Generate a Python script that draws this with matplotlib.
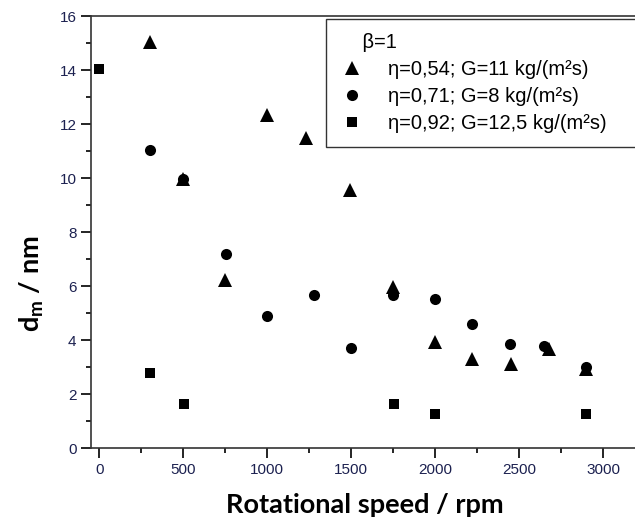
import numpy as np
import matplotlib.pyplot as plt
from matplotlib.lines import Line2D

plt.rcParams['font.family'] = ['Liberation Sans', 'DejaVu Sans']
plt.rcParams['mathtext.fontset'] = 'custom'
plt.rcParams['mathtext.rm'] = 'Lato'
plt.rcParams['mathtext.bf'] = 'Lato:bold'
plt.rcParams['mathtext.it'] = 'Lato:bold'

# rotational speed (rpm) and mean particle diameter (nm)
tri_x = [300, 500, 750, 1000, 1230, 1495, 1750, 2000, 2220, 2450, 2680, 2900]
tri_y = [15.05, 9.95, 6.23, 12.33, 11.49, 9.55, 5.96, 3.91, 3.31, 3.10, 3.67, 2.93]

circ_x = [300, 500, 752, 1000, 1280, 1497, 1750, 2000, 2220, 2448, 2650, 2898]
circ_y = [11.04, 9.95, 7.17, 4.88, 5.65, 3.70, 5.65, 5.52, 4.59, 3.86, 3.79, 3.00]

sq_x = [0, 300, 504, 1752, 2000, 2898]
sq_y = [14.04, 2.79, 1.64, 1.63, 1.27, 1.27]

labels = ['η=0,54; G=11 kg/(m²s)', 'η=0,71; G=8 kg/(m²s)', 'η=0,92; G=12,5 kg/(m²s)']
tick_col = '#1c2150'

fig = plt.figure(figsize=(6.35, 5.28), dpi=100)
ax = fig.add_axes([91/635, 1 - 448/528, 1 - 91/635, (448 - 16)/528])

ax.plot(tri_x, tri_y, '^', color='black', ms=9.5, mew=0, clip_on=False)
ax.plot(circ_x, circ_y, 'o', color='black', ms=8, mew=0, clip_on=False)
ax.plot(sq_x, sq_y, 's', color='black', ms=7.5, mew=0, clip_on=False)

ax.set_xlim(-50, 3190)
ax.set_ylim(0, 16)
ax.set_xticks(np.arange(0, 3001, 500))
ax.set_xticks(np.arange(250, 3001, 500), minor=True)
ax.set_yticks(np.arange(0, 17, 2))
ax.set_yticks(np.arange(1, 16, 2), minor=True)
ax.tick_params(which='major', direction='out', length=7, width=1.2, labelsize=11, labelcolor=tick_col)
ax.tick_params(which='minor', direction='out', length=3.5, width=1.2)
ax.spines['right'].set_visible(False)
for s in ['left', 'bottom', 'top']:
    ax.spines[s].set_linewidth(1.2)
    ax.spines[s].set_color('#333333')

ax.set_xlabel('Rotational speed / rpm', fontsize=19.5, fontweight='bold', family='Lato')
ax.xaxis.set_label_coords((365 - 91) / 544, -(505 - 448) / 432)
ax.xaxis.label.set_va('center')
ax.set_ylabel(r'd$_\mathbf{m}$ / nm', fontsize=19.5, fontweight='bold', family='Lato')
ax.yaxis.set_label_coords(-(91 - 32) / 544, (448 - 284) / 432)
ax.yaxis.label.set_va('center')

handles = [Line2D([], [], ls='', marker=m, color='black', ms=s, mew=0)
           for m, s in [('^', 9.5), ('o', 8), ('s', 7.5)]]
leg = ax.legend(handles, labels, title='    β=1', alignment='left', loc='upper left',
                bbox_to_anchor=(326/635, 1 - 19/528, 0.6, 0.0001), mode='expand',
                bbox_transform=fig.transFigure, fontsize=14.5, title_fontsize=14.5,
                frameon=True, fancybox=False, edgecolor='black', borderaxespad=0,
                handletextpad=1.2, labelspacing=0.4, handlelength=1.2, borderpad=0.7)
leg.get_frame().set_linewidth(1.0)

fig.savefig('out.png', dpi=100)
